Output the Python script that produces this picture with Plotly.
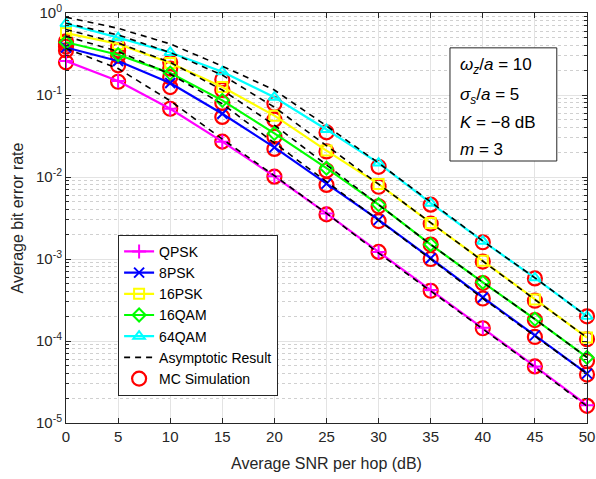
import plotly.graph_objects as go

snr = [0, 5, 10, 15, 20, 25, 30, 35, 40, 45, 50]

names = ["QPSK", "8PSK", "16PSK", "16QAM", "64QAM"]
colors = ["#ff00ff", "#0000ff", "#ffff00", "#00ff00", "#00ffff"]
symbols = ["cross-thin-open", "x-thin-open", "square-open", "diamond-open", "triangle-up-open"]

ber_qpsk = [0.26, 0.148, 0.068, 0.027, 0.0102, 0.0036, 0.00122, 0.00042, 0.000145, 0.000049, 0.0000165]
ber_8psk = [0.38, 0.26, 0.14, 0.059, 0.023, 0.0083, 0.003, 0.00102, 0.00034, 0.000117, 0.00004]
ber_16psk = [0.57, 0.42, 0.245, 0.125, 0.056, 0.021, 0.0082, 0.00275, 0.00095, 0.00032, 0.00011]
ber_16qam = [0.44, 0.31, 0.185, 0.086, 0.034, 0.0128, 0.0046, 0.0015, 0.00052, 0.000185, 0.000063]
ber_64qam = [0.74, 0.5, 0.33, 0.192, 0.094, 0.038, 0.0148, 0.0048, 0.00165, 0.00059, 0.0002]

asy_qpsk = [0.37, 0.21, 0.085, 0.029, 0.0104, 0.0036, 0.00118, 0.00041, 0.00014, 0.000048, 0.000016]
asy_8psk = [0.52, 0.34, 0.18, 0.078, 0.026, 0.0088, 0.003, 0.001, 0.00033, 0.000115, 0.00004]
asy_16psk = [0.75, 0.54, 0.33, 0.175, 0.071, 0.024, 0.0082, 0.00275, 0.00095, 0.00032, 0.00011]
asy_16qam = [0.63, 0.43, 0.25, 0.115, 0.043, 0.014, 0.0046, 0.0015, 0.00052, 0.000185, 0.000063]
asy_64qam = [0.89, 0.65, 0.42, 0.225, 0.115, 0.042, 0.0148, 0.0049, 0.00166, 0.00059, 0.0002]

mc_qpsk = [0.25, 0.145, 0.068, 0.027, 0.0101, 0.0035, 0.00122, 0.00041, 0.000143, 0.000049, 0.0000162]
mc_8psk = [0.35, 0.23, 0.125, 0.054, 0.022, 0.008, 0.0029, 0.001, 0.00033, 0.000112, 0.000039]
mc_16psk = [0.42, 0.35, 0.21, 0.115, 0.05, 0.0205, 0.0076, 0.0027, 0.00093, 0.00031, 0.000105]
mc_16qam = [0.39, 0.30, 0.165, 0.08, 0.031, 0.012, 0.0044, 0.0015, 0.00051, 0.00018, 0.000057]
mc_64qam = [0.45, 0.39, 0.25, 0.155, 0.078, 0.035, 0.0133, 0.0046, 0.0016, 0.00058, 0.0002]

ber = [ber_qpsk, ber_8psk, ber_16psk, ber_16qam, ber_64qam]
asy = [asy_qpsk, asy_8psk, asy_16psk, asy_16qam, asy_64qam]
mc = [mc_qpsk, mc_8psk, mc_16psk, mc_16qam, mc_64qam]

ytickvals = [1e-5, 1e-4, 1e-3, 1e-2, 1e-1, 1]
yticktext = ["10<sup>-5</sup>", "10<sup>-4</sup>", "10<sup>-3</sup>", "10<sup>-2</sup>", "10<sup>-1</sup>", "10<sup>0</sup>"]
yminor = [m * 10 ** e for e in range(-5, 0) for m in range(2, 10)]

param_lines = [
    "<i>ω</i><sub><i>z</i></sub>/<i>a</i> = 10",
    "<i>σ</i><sub><i>s</i></sub>/<i>a</i> = 5",
    "<i>K</i> = −8 dB",
    "<i>m</i> = 3",
]

fig = go.Figure()

# MC simulation circles (drawn underneath)
for i, y in enumerate(mc):
    fig.add_trace(go.Scatter(
        x=snr, y=y, mode="markers", name="MC Simulation",
        marker=dict(symbol="circle-open", size=14, color="#ff0000", line=dict(width=2.2, color="#ff0000")),
        showlegend=(i == 0), legendrank=7, cliponaxis=False,
    ))

for i, y in enumerate(ber):
    fig.add_trace(go.Scatter(
        x=snr, y=y, mode="lines+markers", name=names[i],
        line=dict(color=colors[i], width=2.2),
        marker=dict(symbol=symbols[i], size=10, color=colors[i], line=dict(width=2, color=colors[i])),
        legendrank=i + 1, cliponaxis=False,
    ))

for i, y in enumerate(asy):
    fig.add_trace(go.Scatter(
        x=snr, y=y, mode="lines", name="Asymptotic Result",
        line=dict(color="black", width=1.6, dash="6px,5px"),
        showlegend=(i == 0), legendrank=6,
    ))

# parameter box
fig.add_shape(type="rect", xref="paper", yref="paper",
              x0=0.737, x1=0.942, y0=0.639, y1=0.915,
              line=dict(color="#262626", width=1), fillcolor="white", layer="above")
line_y = [0.871, 0.798, 0.734, 0.668]
for txt, yy in zip(param_lines, line_y):
    fig.add_annotation(
        x=0.752, y=yy, xref="paper", yref="paper", xanchor="left", yanchor="middle",
        align="left", showarrow=False, text=txt,
        font=dict(family="Liberation Sans, Arial, sans-serif", size=17, color="black"),
    )

axis_common = dict(
    showline=True, linecolor="#262626", linewidth=1, mirror="allticks",
    ticks="inside", ticklen=5, tickcolor="#262626",
    gridcolor="#e3e3e3", gridwidth=1, zeroline=False, automargin=False,
    tickfont=dict(size=15, color="#262626"),
)

fig.update_layout(
    width=596, height=479,
    margin=dict(l=66, r=9, t=13, b=56),
    plot_bgcolor="white", paper_bgcolor="white",
    font=dict(family="Liberation Sans, Arial, sans-serif", color="#262626"),
    xaxis=dict(
        range=[0, 50], tickvals=snr,
        title=dict(text="Average SNR per hop (dB)", font=dict(size=16), standoff=13),
        **axis_common,
    ),
    yaxis=dict(
        type="log", range=[-5, 0], tickvals=ytickvals, ticktext=yticktext,
        title=dict(text="Average bit error rate", font=dict(size=16), standoff=8),
        minor=dict(tickvals=yminor, showgrid=True, gridcolor="#d0d0d0", griddash="dot",
                   ticks="inside", ticklen=3, tickcolor="#262626"),
        **axis_common,
    ),
    legend=dict(
        x=0.1, y=0.459, xanchor="left", yanchor="top",
        bordercolor="#262626", borderwidth=1, bgcolor="white",
        font=dict(size=14, color="black"), tracegroupgap=0,
        itemwidth=30,
    ),
    showlegend=True,
)

fig.write_html("out.html", config={"displayModeBar": False},
               post_script="document.body.style.margin='0';document.body.style.overflow='hidden';")
